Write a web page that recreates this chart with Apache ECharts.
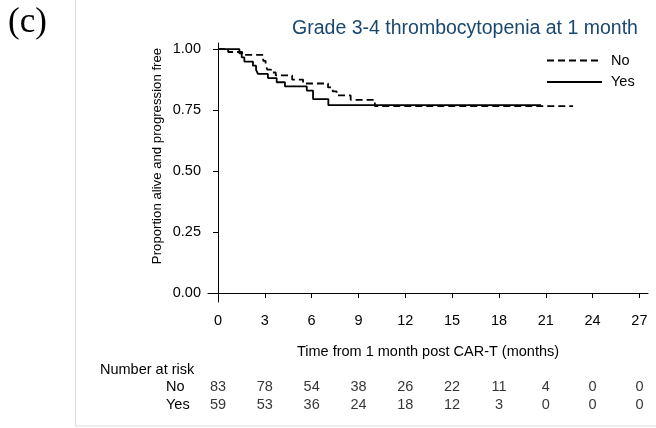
<!DOCTYPE html>
<html>
<head>
<meta charset="utf-8">
<script src="https://cdn.jsdelivr.net/npm/echarts@6/dist/echarts.min.js"></script>
<style>
  html, body { margin: 0; padding: 0; background: #fff; }
  #chart { width: 656px; height: 428px; }
</style>
</head>
<body>
<div id="chart"></div>
<script>
// KM steps: [months, proportion]
var noCurve = [[0, 1], [0.65, 0.988], [1.55, 0.976], [2.9, 0.952], [3.05, 0.94], [3.15, 0.916],
  [3.4, 0.904], [3.7, 0.892], [4.75, 0.875], [5.45, 0.859], [7.05, 0.843], [7.35, 0.827],
  [7.6, 0.81], [8.5, 0.792], [10.05, 0.766], [22.75, 0.766]];
var yesCurve = [[0, 1], [1.37, 0.983], [1.52, 0.966], [1.69, 0.949], [2.24, 0.932], [2.44, 0.915],
  [2.56, 0.898], [3.2, 0.881], [3.76, 0.864], [4.29, 0.847], [5.69, 0.83], [6.09, 0.795],
  [7.07, 0.77], [20.7, 0.77]];

var xTicks = [0, 3, 6, 9, 12, 15, 18, 21, 24, 27];
var yTicks = [0, 0.25, 0.5, 0.75, 1];
var riskGroups = ['No', 'Yes'];
var riskNo = [83, 78, 54, 38, 26, 22, 11, 4, 0, 0];
var riskYes = [59, 53, 36, 24, 18, 12, 3, 0, 0, 0];

var font = '"Liberation Sans", Arial, sans-serif';
var fs = 14.5;

// rows of the risk table as scatter points with labels
var riskData = [];
xTicks.forEach(function (t, i) {
  riskData.push([t, 0, riskNo[i]]);
  riskData.push([t, 1, riskYes[i]]);
});

var chart = echarts.init(document.getElementById('chart'));
chart.setOption({
  animation: false,
  textStyle: { fontFamily: font },
  title: {
    text: 'Grade 3-4 thrombocytopenia at 1 month',
    left: 460, top: 14, textAlign: 'center',
    textStyle: { color: '#1a476f', fontSize: 19.5, fontWeight: 'normal', fontFamily: font }
  },
  legend: {
    orient: 'vertical', left: 546, top: 53, padding: 0,
    itemWidth: 55, itemHeight: 14, itemGap: 6.5,
    itemStyle: { opacity: 0, borderWidth: 0 },
    textStyle: { fontSize: fs, color: '#000', padding: [0, 0, 0, 4] },
    data: ['No', 'Yes']
  },
  grid: [
    { left: 208, top: 43, width: 440, height: 259 },
    { left: 208, top: 378, width: 440, height: 36 }
  ],
  xAxis: [{
    gridIndex: 0, type: 'value', min: -0.64, max: 27.55,
    name: 'Time from 1 month post CAR-T (months)', nameLocation: 'middle', nameGap: 42,
    nameTextStyle: { fontSize: fs, color: '#000' },
    axisLine: { lineStyle: { color: '#000', width: 1 } },
    axisTick: { length: 5, customValues: xTicks, lineStyle: { color: '#000' } },
    axisLabel: { customValues: xTicks, fontSize: fs, color: '#000', margin: 11 },
    splitLine: { show: false }
  }, {
    gridIndex: 1, type: 'value', min: -0.64, max: 27.55, show: false
  }],
  yAxis: [{
    gridIndex: 0, type: 'value', min: -0.037, max: 1.025,
    axisLine: { show: true, lineStyle: { color: '#000', width: 1 } },
    axisTick: { show: true, length: 5, customValues: yTicks, lineStyle: { color: '#000' } },
    axisLabel: {
      customValues: yTicks, fontSize: fs, color: '#000', margin: 7,
      formatter: function (v) { return v.toFixed(2); }
    },
    splitLine: { show: false }
  }, {
    gridIndex: 1, type: 'category', data: riskGroups, inverse: true,
    axisLine: { show: false }, axisTick: { show: false },
    axisLabel: { interval: 0, hideOverlap: false, align: 'left', margin: 42, fontSize: fs, color: '#000' }
  }],
  series: [{
    name: 'No', type: 'line', step: 'end', data: noCurve,
    symbol: 'none', color: '#000',
    lineStyle: { color: '#000', width: 1.8, type: [7, 4] }
  }, {
    name: 'Yes', type: 'line', step: 'end', data: yesCurve,
    symbol: 'none', color: '#000',
    lineStyle: { color: '#000', width: 1.8, type: 'solid' }
  }, {
    type: 'scatter', xAxisIndex: 1, yAxisIndex: 1, data: riskData,
    symbolSize: 1, itemStyle: { color: 'rgba(0,0,0,0)' },
    label: {
      show: true, position: 'inside', fontSize: fs, color: '#000',
      formatter: function (p) { return String(p.value[2]); }
    }
  }],
  graphic: [{
    type: 'rect', silent: true,
    shape: { x: 75.5, y: -5, width: 600, height: 431 },
    style: { fill: 'none', stroke: '#dcdcdc', lineWidth: 1 }
  }, {
    type: 'text', left: 8, top: 5,
    style: { text: '(c)', font: '35px "Liberation Serif", "Times New Roman", serif', fill: '#000' }
  }, {
    type: 'text', x: 157, y: 156, rotation: Math.PI / 2,
    style: {
      text: 'Proportion alive and progression free', font: '13.2px ' + font,
      fill: '#000', align: 'center', verticalAlign: 'middle'
    }
  }, {
    type: 'text', x: 100, y: 370,
    style: { text: 'Number at risk', font: fs + 'px ' + font, fill: '#000', verticalAlign: 'middle' }
  }]
});
</script>
</body>
</html>
